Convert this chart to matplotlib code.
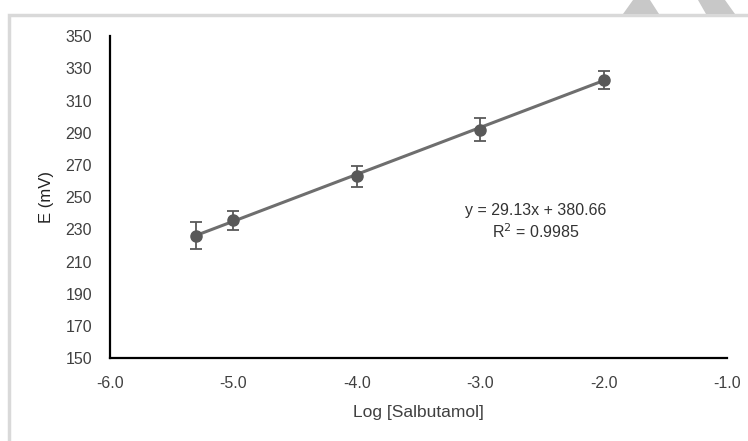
import numpy as np
import matplotlib.pyplot as plt
from matplotlib.patches import Polygon, Rectangle

# Calibration data
log_conc = [-5.3, -5.0, -4.0, -3.0, -2.0]
potential = [226.0, 235.5, 263.0, 292.0, 323.0]
errors = [8.5, 6.0, 6.5, 7.3, 5.6]

slope, intercept = 29.13, 380.66
r_squared = 0.9985

x_ticks = [-6.0, -5.0, -4.0, -3.0, -2.0, -1.0]
y_ticks = list(range(150, 351, 20))

plt.rcParams['font.family'] = ['Liberation Sans', 'DejaVu Sans']

fig = plt.figure(figsize=(7.48, 4.41), dpi=100)
ax = fig.add_axes([0.147, 0.188, 0.825, 0.730])

# light frame and watermark shapes
fig.patches.append(Rectangle((9/748, -0.01), 1.0, 1 - 15/441 + 0.01,
                             transform=fig.transFigure, fill=False,
                             edgecolor='#d9d9d9', linewidth=2.5))
fig.patches.append(Polygon([(623/748, 1 - 14/441), (633/748, 1.0),
                            (650/748, 1.0), (659/748, 1 - 14/441)],
                           closed=True, transform=fig.transFigure,
                           facecolor='#c8c8c8', edgecolor='none'))
fig.patches.append(Polygon([(706/748, 1 - 14/441), (698/748, 1.0),
                            (725/748, 1.0), (735/748, 1 - 14/441)],
                           closed=True, transform=fig.transFigure,
                           facecolor='#c8c8c8', edgecolor='none'))

xfit = np.array([log_conc[0], log_conc[-1]])
ax.plot(xfit, slope * xfit + intercept, color='#6e6e6e', linewidth=2.2, zorder=2)
ax.errorbar(log_conc, potential, yerr=errors, fmt='o', color='#595959',
            markersize=8, ecolor='#595959', elinewidth=1.3, capsize=4,
            capthick=1.3, zorder=3)

ax.text(-2.55, 242, f'y = {slope}x + {intercept}', ha='center', va='center',
        fontsize=11.5, color='#333333')
ax.text(-2.55, 228.5, f'R$^2$ = {r_squared}', ha='center', va='center',
        fontsize=11.5, color='#333333')

ax.set_xlim(-6.0, -1.0)
ax.set_ylim(150, 350)
ax.set_xticks(x_ticks)
ax.set_xticklabels([f'{t:.1f}' for t in x_ticks])
ax.set_yticks(y_ticks)
ax.tick_params(length=0, labelsize=11.5, labelcolor='#404040')
ax.tick_params(axis='y', pad=13)
ax.tick_params(axis='x', pad=13)

for side in ['top', 'right']:
    ax.spines[side].set_visible(False)
ax.spines['left'].set_linewidth(1.6)
ax.spines['bottom'].set_linewidth(1.6)

ax.set_xlabel('Log [Salbutamol]', fontsize=12.5, color='#404040', labelpad=10)
ax.set_ylabel('E (mV)', fontsize=12, color='#222222', labelpad=8)

fig.savefig('out.png', dpi=100)
